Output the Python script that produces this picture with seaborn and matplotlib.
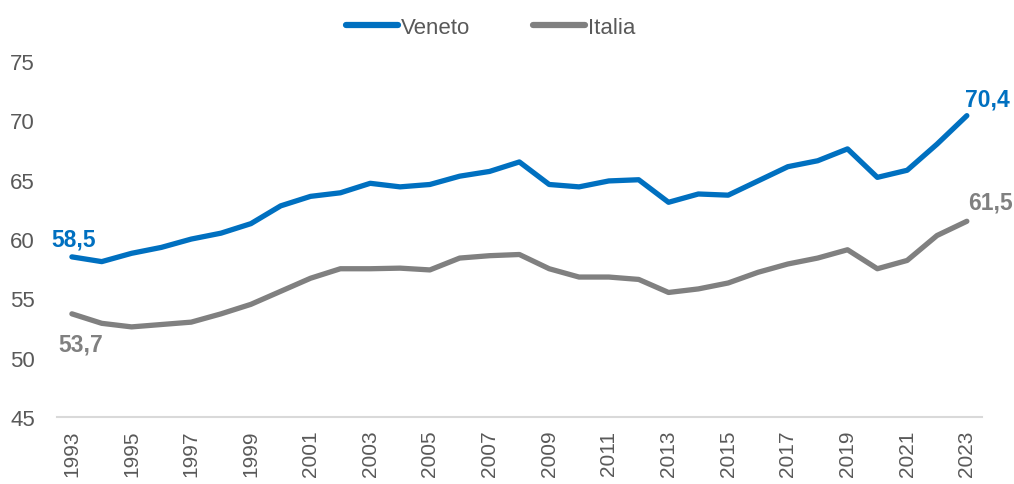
import pandas as pd
import seaborn as sns
import matplotlib.pyplot as plt

years = list(range(1993, 2024))
veneto = [58.5, 58.1, 58.8, 59.3, 60.0, 60.5, 61.3, 62.8, 63.6, 63.9, 64.7, 64.4,
          64.6, 65.3, 65.7, 66.5, 64.6, 64.4, 64.9, 65.0, 63.1, 63.8, 63.7, 64.9,
          66.1, 66.6, 67.6, 65.2, 65.8, 68.0, 70.4]
italia = [53.7, 52.9, 52.6, 52.8, 53.0, 53.7, 54.5, 55.6, 56.7, 57.5, 57.5, 57.55,
          57.4, 58.4, 58.6, 58.7, 57.5, 56.8, 56.8, 56.6, 55.5, 55.8, 56.3, 57.2,
          57.9, 58.4, 59.1, 57.5, 58.2, 60.3, 61.5]
series_names = ['Veneto', 'Italia']
colors = {'Veneto': '#0070C0', 'Italia': '#808080'}

df = pd.DataFrame({'anno': years * 2,
                   'valore': veneto + italia,
                   'serie': ['Veneto'] * len(years) + ['Italia'] * len(years)})

sns.set_theme(style='white')
plt.rcParams['font.family'] = ['Liberation Sans', 'DejaVu Sans']

fig = plt.figure(figsize=(10.14, 4.85), dpi=100)
ax = fig.add_axes([0.0562, 0.138, 0.912, 0.734])

sns.lineplot(data=df, x='anno', y='valore', hue='serie', hue_order=series_names,
             palette=colors, linewidth=3.8, ax=ax, legend=False,
             solid_joinstyle='round', solid_capstyle='round')

ax.set_xlim(1992.5, 2023.5)
ax.set_ylim(45, 75)
ax.set_xticks(years[::2])
ax.set_xticklabels([str(y) for y in years[::2]], rotation=90,
                   fontsize=15, color='#595959')
ax.set_yticks(range(45, 80, 5))
ax.tick_params(axis='y', labelsize=16, colors='#595959', length=0, pad=16)
ax.tick_params(axis='x', length=0, pad=9)
ax.set_xlabel('')
ax.set_ylabel('')
for side in ['top', 'right', 'left']:
    ax.spines[side].set_visible(False)
ax.spines['bottom'].set_color('#d9d9d9')
ax.spines['bottom'].set_linewidth(1.5)

# etichette primo/ultimo valore
def fmt(v):
    return f'{v:.1f}'.replace('.', ',')

lab = dict(fontsize=16.5, fontweight='bold', ha='center', va='center')
ax.text(years[0] + 0.07, veneto[0] + 1.5, fmt(veneto[0]), color=colors['Veneto'], **lab)
ax.text(years[0] + 0.3, italia[0] - 2.55, fmt(italia[0]), color=colors['Italia'], **lab)
ax.text(years[-1] + 0.69, veneto[-1] + 1.4, fmt(veneto[-1]), color=colors['Veneto'], **lab)
ax.text(years[-1] + 0.8, italia[-1] + 1.6, fmt(italia[-1]), color=colors['Italia'], **lab)

handles = [plt.Line2D([], [], color=colors[s], linewidth=4.5, solid_capstyle='round')
           for s in series_names]
fig.legend(handles, series_names, loc='center', bbox_to_anchor=(0.484, 0.942), ncol=2,
           frameon=False, fontsize=16, handlelength=2.35, handletextpad=0.15,
           columnspacing=2.8, labelcolor='#595959')

fig.savefig('out.png', dpi=100)
